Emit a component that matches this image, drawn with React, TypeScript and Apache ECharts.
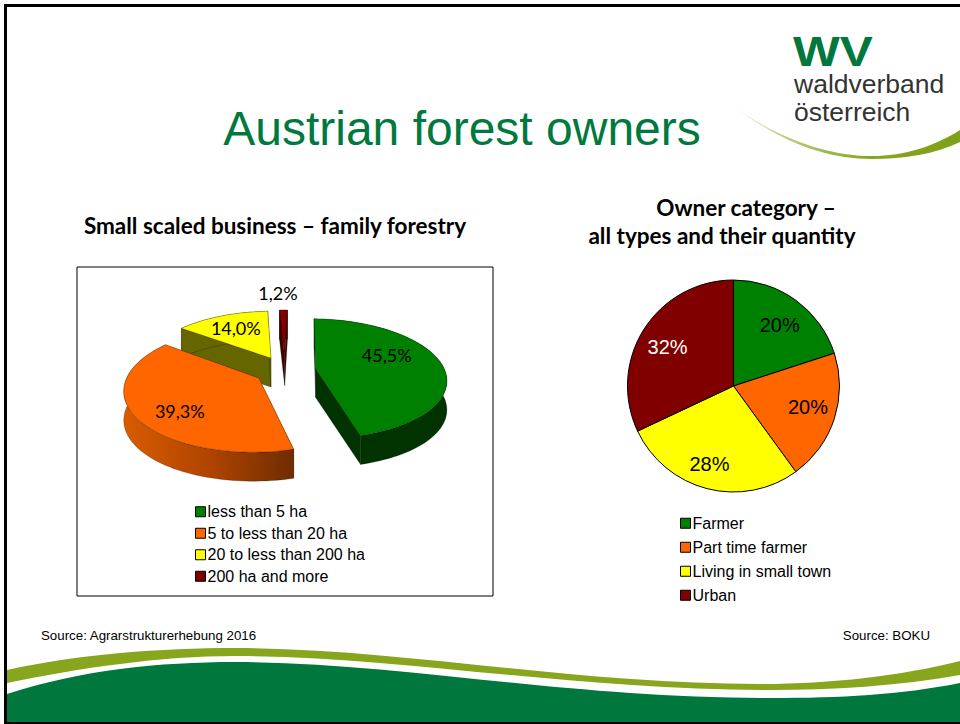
import React, { useEffect, useRef } from "react";
import * as echarts from "echarts";

// ---------- data ----------
const holdingNames = ["less than 5 ha", "5 to less than 20 ha", "20 to less than 200 ha", "200 ha and more"];
const holdingValues = [45.5, 39.3, 14.0, 1.2];
const ownerNames = ["Farmer", "Part time farmer", "Living in small town", "Urban"];
const ownerValues = [20, 20, 28, 32];
const topColors = ["#008000", "#FF6600", "#FFFF00", "#800000"];
const wallColors = ["#003300", "#B04400", "#666600", "#400000"];

// ---------- projection of the exploded 3D pie ----------
const ANCHOR_X = 285;
const ANCHOR_Y = 370;
const RADIUS_X = 129;
const RADIUS_Y = 58.5;
const PERSPECTIVE = 0.17;
const EXPLODE = 0.24;
const DEPTH = 29;
const START_ANGLE = 1.5;
const LABEL_RADIUS = [0.55, 0.62, 0.62, 1.45];
const LABEL_SHIFT = [[2, -10], [-5, 10], [-3, -3], [-5, 0]];
const PIE_LABEL_SHIFT = [[-1, 4], [-2, -4], [-4, 0], [2, 4]];

const rad = (d: number) => (d * Math.PI) / 180;
const project = (wx: number, wy: number): number[] => {
  const s = 1 / (1 - PERSPECTIVE * wy);
  return [ANCHOR_X + wx * RADIUS_X * s, ANCHOR_Y + wy * RADIUS_Y * s];
};
const sum = (a: number[]) => a.reduce((p, c) => p + c, 0);

function sliceElements(index: number, value: number) {
  const total = sum(holdingValues);
  const before = sum(holdingValues.slice(0, index));
  const a0 = START_ANGLE + (before / total) * 360;
  const a1 = a0 + (value / total) * 360;
  const mid = (a0 + a1) / 2;
  const ox = Math.sin(rad(mid)) * EXPLODE;
  const oy = -Math.cos(rad(mid)) * EXPLODE;
  const at = (deg: number, r = 1) => project(ox + Math.sin(rad(deg)) * r, oy - Math.cos(rad(deg)) * r);
  const arc: number[][] = [];
  const steps = Math.max(2, Math.ceil((a1 - a0) / 2));
  for (let i = 0; i <= steps; i++) arc.push(at(a0 + ((a1 - a0) * i) / steps));
  const apex = at(0, 0);
  const down = (p: number[]) => [p[0], p[1] + DEPTH];
  const wall = index === 1
    ? {
        type: "linear", x: 0, y: 0, x2: 1, y2: 0,
        colorStops: [
          { offset: 0, color: "#D85C00" },
          { offset: 0.5, color: "#B04400" },
          { offset: 1, color: "#702C00" },
        ],
      }
    : wallColors[index];
  const edge = { stroke: "rgba(0,0,0,0.45)", lineWidth: 0.5 };
  const wallPoly = (pts: number[][]) => ({
    type: "polygon",
    shape: { points: [...pts, ...pts.map(down).reverse()] },
    style: { fill: wall, ...edge },
  });
  const labelPos = at(mid, LABEL_RADIUS[index]);
  const shift = LABEL_SHIFT[index];
  return [
    wallPoly([apex, arc[0]]),
    wallPoly([apex, arc[arc.length - 1]]),
    wallPoly(arc),
    {
      type: "polygon",
      shape: { points: [apex, ...arc] },
      style: { fill: topColors[index], ...edge },
    },
    {
      type: "text",
      z2: 50,
      style: {
        text: value.toFixed(1).replace(".", ",") + "%",
        x: labelPos[0] + shift[0],
        y: labelPos[1] + shift[1],
        fill: "#000",
        font: "18px Lato",
        textAlign: "center",
        textVerticalAlign: "middle",
      },
    },
  ];
}

// ---------- decoration ----------
echarts.graphic.registerShape(
  "bandLight",
  echarts.graphic.extendPath(
    "M7,670 C80,654 160,648 235,648 C400,648 570,684 760,684 C830,684 900,676 960,661 L960,675 C900,686 830,690 770,690 C570,690 400,656 235,656 C160,656 80,668 7,683 Z",
    {}
  )
);
echarts.graphic.registerShape(
  "bandDark",
  echarts.graphic.extendPath(
    "M7,694 C80,670 160,662 235,662 C400,662 560,698 771,698 C840,698 900,695 960,683 L960,722 L7,722 Z",
    {}
  )
);
echarts.graphic.registerShape(
  "logoSwoosh",
  echarts.graphic.extendPath(
    "M730,104 C780,140 830,156 872,156 C905,156 935,146 960,130 L960,142 C935,154 905,159 872,159 C825,159 780,142 730,104 Z",
    {}
  )
);

const sans = "Liberation Sans";
const txt = (text: string, x: number, y: number, font: string, fill: string, align = "left", extra: object = {}) => ({
  type: "text",
  z: 5,
  style: { text, x, y, font, fill, textAlign: align, textVerticalAlign: "middle" },
  ...extra,
});

const graphics = [
  { type: "rect", z: 1, shape: { x: 4, y: 4, width: 956, height: 3 }, style: { fill: "#000" } },
  { type: "rect", z: 1, shape: { x: 4, y: 4, width: 3, height: 720 }, style: { fill: "#000" } },
  { type: "rect", z: 1, shape: { x: 4, y: 722, width: 956, height: 2 }, style: { fill: "#000" } },
  { type: "bandLight", z: 1, style: { fill: "#87A61E" } },
  { type: "bandDark", z: 1, style: { fill: "#00773C" } },
  {
    type: "logoSwoosh",
    z: 1,
    style: {
      fill: {
        type: "linear", x: 730, y: 0, x2: 960, y2: 0, global: true,
        colorStops: [
          { offset: 0, color: "rgba(135,166,30,0)" },
          { offset: 0.35, color: "#A8C060" },
          { offset: 0.6, color: "#87A61E" },
          { offset: 1, color: "#7FA01A" },
        ],
      },
    },
  },
  { type: "rect", z: 1, shape: { x: 77, y: 267, width: 416, height: 329 }, style: { fill: "#fff", stroke: "#000", lineWidth: 1 } },
  txt("WV", 793, 51, `bold 42px ${sans}`, "#00773C", "left", { scaleX: 1.18, originX: 793, originY: 51 }),
  txt("waldverband", 794, 84, `26.5px ${sans}`, "#333", "left"),
  txt("österreich", 794, 111.5, `26.5px ${sans}`, "#333", "left"),
  txt("Austrian forest owners", 462, 128, `48px ${sans}`, "#00793E", "center"),
  txt("Small scaled business – family forestry", 275, 225, "bold 22.5px Lato", "#000", "center"),
  txt("Owner category –", 746, 207, "bold 22.5px Lato", "#000", "center"),
  txt("all types and their quantity", 722, 235, "bold 22.5px Lato", "#000", "center"),
  txt("Source: Agrarstrukturerhebung 2016", 41, 635, `13.3px ${sans}`, "#000", "left"),
  txt("Source: BOKU", 930, 635, `13.3px ${sans}`, "#000", "right"),
];

const DRAW_ORDER_Z = [3, 3, 2, 2];

const pieR = 106;
const pieLabelLayout = (params: any) => {
  const total = sum(ownerValues);
  const i = params.dataIndex;
  const before = sum(ownerValues.slice(0, i));
  const mid = ((before + ownerValues[i] / 2) / total) * Math.PI * 2;
  const extra = pieR * 0.23;
  return { dx: Math.sin(mid) * extra + PIE_LABEL_SHIFT[i][0], dy: -Math.cos(mid) * extra + PIE_LABEL_SHIFT[i][1] };
};

const legendText = { fontFamily: sans, fontSize: 16, color: "#000", lineHeight: 16.5, padding: [0, 0, 0, -3] };

export default function App() {
  const ref = useRef<HTMLDivElement>(null);
  useEffect(() => {
    const chart = echarts.init(ref.current!, undefined, { renderer: "svg" });
    chart.setOption({
      animation: false,
      backgroundColor: "#fff",
      graphic: graphics,
      legend: [
        {
          orient: "vertical",
          left: 190,
          top: 498.5,
          data: holdingNames,
          itemWidth: 10,
          itemHeight: 10,
          itemGap: 5,
          icon: "rect",
          selectedMode: false,
          itemStyle: { borderColor: "#000", borderWidth: 1 },
          textStyle: legendText,
        },
        {
          orient: "vertical",
          left: 675,
          top: 510,
          data: ownerNames,
          itemWidth: 10,
          itemHeight: 10,
          itemGap: 7.5,
          icon: "rect",
          selectedMode: false,
          itemStyle: { borderColor: "#000", borderWidth: 1 },
          textStyle: legendText,
        },
      ],
      series: [
        ...holdingNames.map((name, i) => ({
          type: "custom",
          name,
          z: DRAW_ORDER_Z[i],
          coordinateSystem: "none",
          silent: true,
          itemStyle: { color: topColors[i] },
          data: [holdingValues[i]],
          renderItem: (_p: any, api: any) => ({
            type: "group",
            children: sliceElements(i, api.value(0)),
          }),
        })),
        {
          type: "pie",
          z: 2,
          center: [733.5, 386],
          radius: pieR,
          startAngle: 90,
          clockwise: true,
          silent: true,
          itemStyle: { borderColor: "#000", borderWidth: 1 },
          label: {
            show: true,
            position: "inside",
            formatter: "{c}%",
            fontFamily: sans,
            fontSize: 20,
            color: "#000",
          },
          labelLayout: pieLabelLayout,
          labelLine: { show: false },
          data: ownerNames.map((name, i) => ({
            name,
            value: ownerValues[i],
            itemStyle: { color: topColors[i] },
            label: { color: i === 3 ? "#fff" : "#000" },
          })),
        },
      ],
    });
    return () => chart.dispose();
  }, []);
  return <div ref={ref} style={{ position: "absolute", left: 0, top: 0, width: 960, height: 724 }} />;
}
